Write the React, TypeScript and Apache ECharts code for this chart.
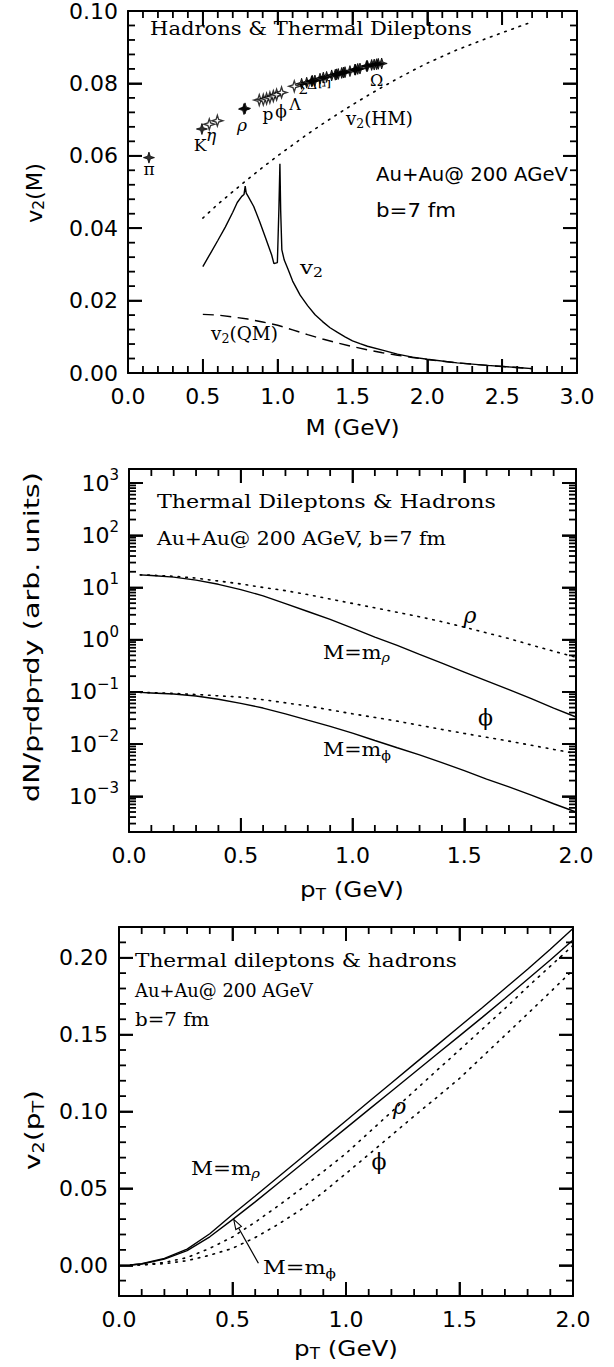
import React, { useEffect, useRef } from "react";
import * as echarts from "echarts";

// ---------------- Panel 1: v2(M) ----------------
const hadronFilledM = [0.14, 0.494, 0.775, 0.782, 1.16, 1.194, 1.227, 1.232, 1.249, 1.283, 1.305, 1.327, 1.361, 1.385, 1.394, 1.405, 1.428, 1.44, 1.45, 1.483, 1.516, 1.52, 1.535, 1.55, 1.594, 1.6, 1.628, 1.645, 1.661, 1.672, 1.695];
const hadronFilledV2 = [0.0595, 0.0674, 0.0729, 0.0731, 0.0799, 0.0802, 0.0806, 0.0807, 0.0808, 0.0813, 0.0816, 0.0818, 0.0822, 0.0824, 0.0825, 0.0826, 0.0829, 0.083, 0.0831, 0.0834, 0.0838, 0.0838, 0.084, 0.0841, 0.0848, 0.0848, 0.0851, 0.0852, 0.0853, 0.0854, 0.0855];
const hadronOpenM = [0.543, 0.597, 0.877, 0.904, 0.926, 0.948, 0.971, 0.993, 1.026, 1.111];
const hadronOpenV2 = [0.0687, 0.0697, 0.0754, 0.0755, 0.0758, 0.0761, 0.0765, 0.0769, 0.0775, 0.0792];

const hmM = [0.5, 0.6, 0.7, 0.8, 0.9, 1.0, 1.1, 1.2, 1.3, 1.4, 1.5, 1.6, 1.7, 1.8, 1.9, 2.0, 2.2, 2.4, 2.6, 2.7];
const hmV2 = [0.0428, 0.0466, 0.0501, 0.0535, 0.0568, 0.06, 0.063, 0.066, 0.0688, 0.0715, 0.0741, 0.0766, 0.079, 0.0813, 0.0835, 0.0856, 0.0893, 0.0925, 0.0955, 0.097];

const totM = [0.5, 0.55, 0.6, 0.65, 0.7, 0.73, 0.76, 0.775, 0.783, 0.79, 0.8, 0.84, 0.88, 0.92, 0.96, 0.975, 0.998, 1.008, 1.015, 1.02, 1.028, 1.044, 1.07, 1.1, 1.15, 1.2, 1.25, 1.3, 1.35, 1.4, 1.45, 1.5, 1.55, 1.6, 1.7, 1.8, 1.9, 2.0, 2.2, 2.4, 2.6, 2.7];
const totV2 = [0.0294, 0.033, 0.0366, 0.0403, 0.0444, 0.0471, 0.0488, 0.0493, 0.0516, 0.0497, 0.049, 0.046, 0.0418, 0.0372, 0.0326, 0.0302, 0.0305, 0.045, 0.0578, 0.045, 0.034, 0.0312, 0.0286, 0.0254, 0.0215, 0.0186, 0.0161, 0.0142, 0.0125, 0.0112, 0.01, 0.0089, 0.0081, 0.0074, 0.0063, 0.0052, 0.0044, 0.0038, 0.0028, 0.0021, 0.0015, 0.0012];

const qmM = [0.5, 0.6, 0.7, 0.8, 0.9, 1.0, 1.1, 1.2, 1.3, 1.4, 1.5, 1.6, 1.7, 1.8, 1.9, 2.0, 2.2, 2.4, 2.6, 2.7];
const qmV2 = [0.0162, 0.016, 0.0155, 0.0149, 0.0141, 0.0132, 0.0119, 0.0106, 0.0094, 0.0083, 0.0073, 0.0064, 0.0056, 0.0049, 0.0043, 0.0037, 0.0028, 0.0021, 0.0015, 0.0012];

// ---------------- Panel 2: spectra (log) ----------------
const pt2 = [0.05, 0.1, 0.2, 0.3, 0.4, 0.5, 0.6, 0.7, 0.8, 0.9, 1.0, 1.1, 1.2, 1.3, 1.4, 1.5, 1.6, 1.7, 1.8, 1.9, 2.0];
const rhoSolid2 = [17.4, 17.0, 15.8, 13.8, 11.5, 9.1, 6.9, 4.9, 3.47, 2.45, 1.66, 1.12, 0.78, 0.525, 0.355, 0.24, 0.162, 0.11, 0.074, 0.049, 0.033];
const rhoDotted2 = [17.4, 17.2, 16.4, 15.1, 13.3, 11.7, 10.0, 8.7, 7.3, 6.0, 4.95, 4.07, 3.35, 2.75, 2.21, 1.74, 1.35, 1.05, 0.79, 0.6, 0.46];
const phiSolid2 = [0.0977, 0.0955, 0.0912, 0.0832, 0.0724, 0.0603, 0.049, 0.038, 0.0288, 0.0219, 0.0162, 0.0117, 0.0085, 0.0062, 0.0044, 0.0031, 0.00214, 0.00151, 0.00105, 0.00072, 0.0005];
const phiDotted2 = [0.0977, 0.0966, 0.0933, 0.0891, 0.0841, 0.0794, 0.0708, 0.0617, 0.0537, 0.0452, 0.038, 0.0324, 0.0275, 0.0229, 0.0191, 0.016, 0.0135, 0.0114, 0.0095, 0.0079, 0.0066];
const logMin2 = 2.07e-4;
const logMax2 = 1.86e3;
const logDecades2 = [-3, -2, -1, 0, 1, 2, 3];

// ---------------- Panel 3: v2(pT) ----------------
const pt3 = [0.05, 0.1, 0.2, 0.3, 0.4, 0.5, 0.6, 0.7, 0.8, 0.9, 1.0, 1.1, 1.2, 1.3, 1.4, 1.5, 1.6, 1.7, 1.8, 1.9, 2.0];
const rhoSolid3 = [0.0002, 0.001, 0.0045, 0.0105, 0.0205, 0.033, 0.045, 0.0572, 0.0694, 0.0817, 0.094, 0.1063, 0.1185, 0.1308, 0.143, 0.1553, 0.1675, 0.18, 0.1925, 0.2055, 0.219];
const phiSolid3 = [0.0002, 0.0008, 0.004, 0.0095, 0.0185, 0.0297, 0.0412, 0.0532, 0.0652, 0.0772, 0.0892, 0.1012, 0.1132, 0.1252, 0.1372, 0.1492, 0.1612, 0.1735, 0.186, 0.1985, 0.2115];
const rhoDotted3 = [0.0, 0.0003, 0.0018, 0.005, 0.011, 0.0184, 0.028, 0.0385, 0.0495, 0.061, 0.0727, 0.0862, 0.0997, 0.1132, 0.1267, 0.14, 0.1535, 0.167, 0.181, 0.1945, 0.208];
const phiDotted3 = [0.0, 0.0002, 0.001, 0.003, 0.0065, 0.011, 0.018, 0.0265, 0.036, 0.0475, 0.0597, 0.072, 0.0845, 0.097, 0.1092, 0.1215, 0.1355, 0.1495, 0.1635, 0.1777, 0.192];
const v2TickLabels3 = [0, 0.05, 0.1, 0.15, 0.2];

const SANS = "DejaVu Sans";
const SERIF = "DejaVu Serif";
const BLACK = "#000";
const STAR = "path://M0,-10L2.4,-2.4L10,0L2.4,2.4L0,10L-2.4,2.4L-10,0L-2.4,-2.4Z";
const MAJOR = 14;
const MINOR = 7;
const TW = 1.8;

const GRIDS = [
  { left: 128, top: 8, width: 449, height: 365 },
  { left: 129, top: 469, width: 447, height: 363 },
  { left: 119, top: 927, width: 454, height: 369 },
];

const zip = (xs: number[], ys: number[]) => xs.map((x, i) => [x, ys[i]]);

const axisLine = { show: true, onZero: false, lineStyle: { color: BLACK, width: 2 } };
const labelBase = { fontFamily: SANS, fontSize: 22, color: BLACK };

type Seg = { t: string; sub?: boolean; sup?: boolean; italic?: boolean; size?: number; family?: string };

function linVals(n0: number, n1: number, step: number, majorEvery: number, wantMajor: boolean) {
  const out: number[] = [];
  for (let i = n0; i <= n1; i++) if ((i % majorEvery === 0) === wantMajor) out.push(+(i * step).toFixed(6));
  return out;
}

export default function App() {
  const ref = useRef<HTMLDivElement>(null);
  useEffect(() => {
    document.body.style.margin = "0";
    const chart = echarts.init(ref.current!, null, { renderer: "svg", width: 614, height: 1367 });

    const cvs = document.createElement("canvas").getContext("2d")!;
    const segSize = (s: Seg, base: number) => s.size ?? (s.sub || s.sup ? Math.round(base * 0.7) : base);
    const measure = (segs: Seg[], base: number, family: string) =>
      segs.reduce((acc, s) => {
        cvs.font = `${s.italic ? "italic " : ""}${segSize(s, base)}px "${s.family ?? family}"`;
        return acc + cvs.measureText(s.t).width;
      }, 0);
    const rich = (segs: Seg[], base: number, family: string) => {
      const r: any = {};
      let text = "";
      segs.forEach((s, i) => {
        const k = "r" + i;
        r[k] = {
          fontSize: segSize(s, base), fontFamily: s.family ?? family, fontStyle: s.italic ? "italic" : "normal", fill: BLACK,
          padding: s.sub ? [Math.round(base * 0.5), 0, 0, 0] : s.sup ? [0, 0, Math.round(base * 0.7), 0] : [0, 0, 0, 0],
        };
        text += `{${k}|${s.t}}`;
      });
      return { text, rich: r };
    };
    const anno = (segs: Seg[], left: number, right: number, cy: number, base: number, family: string) => {
      const w = measure(segs, base, family);
      const rt = rich(segs, base, family);
      return {
        type: "text", x: left, y: cy, scaleX: (right - left) / w, z: 50,
        style: { text: rt.text, rich: rt.rich, fontSize: base, fontFamily: family, fill: BLACK, align: "left", verticalAlign: "middle" },
      };
    };
    const title = (segs: Seg[], cx: number, cy: number, len: number, base: number, rotate: boolean) => {
      const w = measure(segs, base, SANS);
      const rt = rich(segs, base, SANS);
      return {
        type: "text", x: cx, y: cy, rotation: rotate ? Math.PI / 2 : 0, scaleX: len / w, z: 50,
        style: { text: rt.text, rich: rt.rich, fontSize: base, fontFamily: SANS, fill: BLACK, align: "center", verticalAlign: "middle" },
      };
    };
    const sym = (t: string, cx: number, cy: number, size: number, italic = false, rot = 0) => ({
      type: "text", x: cx, y: cy, rotation: rot, z: 50,
      style: { text: t, fontSize: size, fontFamily: SERIF, fontStyle: italic ? "italic" : "normal", fill: BLACK, align: "center", verticalAlign: "middle" },
    });

    const logMajor: number[] = logDecades2.map((e) => Math.pow(10, e));
    const logMinor: number[] = [];
    for (let e = -4; e <= 3; e++) for (let k = 2; k <= 9; k++) {
      const v = k * Math.pow(10, e);
      if (v > logMin2 && v < logMax2) logMinor.push(v);
    }
    const logLabel = (v: number) => {
      const e = Math.round(Math.log10(v));
      return `{b|10}{s|${e < 0 ? "\u2212" + -e : e}}`;
    };

    const axisTickOn = (len: number, custom?: number[]) => ({
      show: true, inside: true, length: len, lineStyle: { color: BLACK, width: TW }, ...(custom ? { customValues: custom } : {}),
    });
    const xAx = (grid: number, min: number, max: number, labels: boolean, position: string) => ({
      type: "value", gridIndex: grid, min, max, interval: 0.5, position,
      axisLine, axisTick: axisTickOn(MAJOR), minorTick: { show: false }, splitLine: { show: false },
      axisLabel: labels ? { ...labelBase, show: true, margin: 12, formatter: (v: number) => v.toFixed(1) } : { show: false },
    });
    const yAx = (grid: number, extra: any, position: string, labels: any, tick: any) => ({
      gridIndex: grid, position, axisLine, axisTick: tick, minorTick: { show: false }, splitLine: { show: false },
      ...extra,
      axisLabel: labels || { show: false },
    });

    const dotted = { color: BLACK, width: 1.6, type: [1.6, 6] as any, cap: "round" };
    const solid = { color: BLACK, width: 1.4 };
    const dashed = { color: BLACK, width: 1.4, type: [11, 6.5] as any };
    const line = (name: string, data: any[], xi: number, yi: number, style: any) => ({
      type: "line", name, data, xAxisIndex: xi, yAxisIndex: yi, showSymbol: false, symbol: "none",
      smooth: false, lineStyle: style, silent: true, z: 2,
    });

    // tick marks as thin rectangular symbols anchored on the frame through the axes' scales
    const tickSeries: any[] = [];
    const addTicks = (xi: number, yi: number, xMin: number, xMax: number, yMin: number, yMax: number,
      xMaj: number[], xMin_: number[], yMaj: number[], yMin_: number[]) => {
      const mk = (data: number[][], size: number[], offset: number[]) => tickSeries.push({
        type: "scatter", name: "ticks", data, xAxisIndex: xi, yAxisIndex: yi, symbol: "rect",
        symbolSize: size, symbolOffset: offset, clip: false, silent: true, z: 8,
        itemStyle: { color: BLACK, borderWidth: 0, opacity: 1 },
      });
      [[xMaj, MAJOR], [xMin_, MINOR]].forEach(([vals, len]: any) => {
        mk(vals.map((v: number) => [v, yMin]), [TW, len], [0, -len / 2]);
        mk(vals.map((v: number) => [v, yMax]), [TW, len], [0, len / 2]);
      });
      [[yMaj, MAJOR], [yMin_, MINOR]].forEach(([vals, len]: any) => {
        mk(vals.map((v: number) => [xMin, v]), [len, TW], [len / 2, 0]);
        mk(vals.map((v: number) => [xMax, v]), [len, TW], [-len / 2, 0]);
      });
    };
    addTicks(0, 0, 0, 3, 0, 0.1,
      linVals(1, 29, 0.1, 5, true), linVals(1, 29, 0.1, 5, false),
      linVals(1, 24, 0.004, 5, true), linVals(1, 24, 0.004, 5, false));
    addTicks(2, 2, 0, 2, logMin2, logMax2,
      linVals(1, 19, 0.1, 5, true), linVals(1, 19, 0.1, 5, false), logMajor, logMinor);
    addTicks(4, 4, 0, 2, -0.02, 0.22,
      linVals(1, 19, 0.1, 5, true), linVals(1, 19, 0.1, 5, false),
      linVals(-1, 21, 0.01, 5, true), linVals(-1, 21, 0.01, 5, false));

    const arrowTip = [233.7, 1219.3];
    const arrowTail = [258.4, 1263.3];
    const dx = arrowTip[0] - arrowTail[0], dy = arrowTip[1] - arrowTail[1];
    const L = Math.hypot(dx, dy), ux = dx / L, uy = dy / L;
    const bx = arrowTip[0] - 10 * ux, by = arrowTip[1] - 10 * uy;
    const nx = -uy, ny = ux;

    chart.setOption({
      animation: false,
      backgroundColor: "#fff",
      grid: GRIDS.map((g) => ({ ...g })),
      xAxis: [
        xAx(0, 0, 3, true, "bottom"), xAx(0, 0, 3, false, "top"),
        xAx(1, 0, 2, true, "bottom"), xAx(1, 0, 2, false, "top"),
        xAx(2, 0, 2, true, "bottom"), xAx(2, 0, 2, false, "top"),
      ],
      yAxis: [
        yAx(0, { type: "value", min: 0, max: 0.1, interval: 0.02 }, "left",
          { ...labelBase, show: true, margin: 10, formatter: (v: number) => v.toFixed(2) }, axisTickOn(MAJOR)),
        yAx(0, { type: "value", min: 0, max: 0.1, interval: 0.02 }, "right", null, axisTickOn(MAJOR)),
        yAx(1, { type: "log", min: logMin2, max: logMax2 }, "left", {
          show: true, margin: 10, showMinLabel: false, showMaxLabel: false, formatter: logLabel,
          rich: {
            b: { fontFamily: SANS, fontSize: 22, color: BLACK },
            s: { fontFamily: SANS, fontSize: 15, color: BLACK, padding: [0, 0, 16, 0] },
          },
        }, axisTickOn(MAJOR, logMajor)),
        yAx(1, { type: "log", min: logMin2, max: logMax2 }, "right", null, axisTickOn(MAJOR, logMajor)),
        yAx(2, { type: "value", min: -0.02, max: 0.22, interval: 0.01 }, "left",
          { ...labelBase, show: true, margin: 11, customValues: v2TickLabels3, formatter: (v: number) => v.toFixed(2) },
          axisTickOn(MAJOR, v2TickLabels3)),
        yAx(2, { type: "value", min: -0.02, max: 0.22, interval: 0.01 }, "right", null, axisTickOn(MAJOR, v2TickLabels3)),
      ],
      series: [
        ...tickSeries,
        line("v2(HM)", zip(hmM, hmV2), 0, 0, dotted),
        line("v2", zip(totM, totV2), 0, 0, solid),
        line("v2(QM)", zip(qmM, qmV2), 0, 0, dashed),
        {
          type: "scatter", name: "hadrons (open)", data: zip(hadronOpenM, hadronOpenV2), xAxisIndex: 0, yAxisIndex: 0,
          symbol: STAR, symbolSize: 11, itemStyle: { color: "#fff", borderColor: BLACK, borderWidth: 1.3 }, z: 3, silent: true,
        },
        {
          type: "scatter", name: "hadrons (filled)", data: zip(hadronFilledM, hadronFilledV2), xAxisIndex: 0, yAxisIndex: 0,
          symbol: STAR, symbolSize: 11, itemStyle: { color: BLACK, borderColor: BLACK, borderWidth: 1 }, z: 3, silent: true,
        },
        line("rho dotted", zip(pt2, rhoDotted2), 2, 2, dotted),
        line("M=m_rho", zip(pt2, rhoSolid2), 2, 2, solid),
        line("phi dotted", zip(pt2, phiDotted2), 2, 2, dotted),
        line("M=m_phi", zip(pt2, phiSolid2), 2, 2, solid),
        line("M=m_rho v2", zip(pt3, rhoSolid3), 4, 4, solid),
        line("M=m_phi v2", zip(pt3, phiSolid3), 4, 4, solid),
        line("rho v2", zip(pt3, rhoDotted3), 4, 4, dotted),
        line("phi v2", zip(pt3, phiDotted3), 4, 4, dotted),
      ],
      graphic: [
        // axis titles
        title([{ t: "M (GeV)" }], 352.5, 427, 94, 22, false),
        title([{ t: "v" }, { t: "2", sub: true }, { t: "(M)" }], 34, 193, 60, 22, true),
        title([{ t: "p" }, { t: "T", sub: true }, { t: " (GeV)" }], 352, 889, 104, 22, false),
        title([{ t: "dN/p" }, { t: "T", sub: true }, { t: "dp" }, { t: "T", sub: true }, { t: "dy (arb. units)" }], 31, 637, 330, 22, true),
        title([{ t: "p" }, { t: "T", sub: true }, { t: " (GeV)" }], 346, 1348, 104, 22, false),
        title([{ t: "v" }, { t: "2", sub: true }, { t: "(p" }, { t: "T", sub: true }, { t: ")" }], 33, 1130, 80, 22, true),
        // panel 1 annotations
        anno([{ t: "Hadrons & Thermal Dileptons" }], 150, 472, 29, 18, SERIF),
        anno([{ t: "Au+Au@ 200 AGeV" }], 376, 568, 174, 20, SANS),
        anno([{ t: "b=7 fm" }], 376, 456, 210, 20, SANS),
        anno([{ t: "v" }, { t: "2", sub: true }, { t: "(HM)" }], 346, 413, 118, 19, SERIF),
        anno([{ t: "v" }, { t: "2", sub: true }], 300, 323, 267, 19, SERIF),
        anno([{ t: "v" }, { t: "2", sub: true }, { t: "(QM)" }], 211, 278, 333, 19, SERIF),
        sym("\u03c0", 149, 169, 17),
        sym("K", 200, 145, 17),
        sym("\u03b7", 211, 135, 17, true),
        sym("\u03c1", 242, 125, 17, true),
        sym("p", 268, 114, 17),
        sym("\u03d5", 281, 111, 17),
        sym("\u039b", 295, 104, 16),
        sym("\u03a3", 303, 89, 13),
        sym("\u0394", 312, 84, 14),
        sym("\u039e", 325, 84, 14, false, Math.PI / 2),
        sym("\u03a9", 376.5, 80, 16),
        // panel 2 annotations
        anno([{ t: "Thermal Dileptons & Hadrons" }], 157, 496, 502, 19, SERIF),
        anno([{ t: "Au+Au@ 200 AGeV, b=7 fm" }], 157, 446, 539, 19, SERIF),
        sym("\u03c1", 470, 615, 22, true),
        anno([{ t: "M=m" }, { t: "\u03c1", sub: true, italic: true }], 323, 390, 652, 19, SERIF),
        sym("\u03d5", 485.5, 717, 22),
        anno([{ t: "M=m" }, { t: "\u03d5", sub: true }], 323, 391, 750, 19, SERIF),
        // panel 3 annotations
        anno([{ t: "Thermal dileptons & hadrons" }], 135, 457, 960, 19, SERIF),
        anno([{ t: "Au+Au@ 200 AGeV" }], 135, 313, 990, 19, SERIF),
        anno([{ t: "b=7 fm" }], 135, 209.5, 1020, 19, SERIF),
        anno([{ t: "M=m" }, { t: "\u03c1", sub: true, italic: true }], 191, 260, 1168, 19, SERIF),
        anno([{ t: "M=m" }, { t: "\u03d5", sub: true }], 263, 336, 1268, 19, SERIF),
        sym("\u03c1", 399.4, 1106.7, 22, true),
        sym("\u03d5", 379, 1161.7, 22),
        {
          type: "line", z: 50,
          shape: { x1: arrowTail[0], y1: arrowTail[1], x2: bx, y2: by },
          style: { stroke: BLACK, lineWidth: 1.2 },
        },
        {
          type: "polygon", z: 51,
          shape: { points: [arrowTip, [bx + 3.2 * nx, by + 3.2 * ny], [bx - 3.2 * nx, by - 3.2 * ny]] },
          style: { fill: "#fff", stroke: BLACK, lineWidth: 1.1 },
        },
      ],
    });
    return () => chart.dispose();
  }, []);
  return <div ref={ref} style={{ width: 614, height: 1367 }} />;
}
